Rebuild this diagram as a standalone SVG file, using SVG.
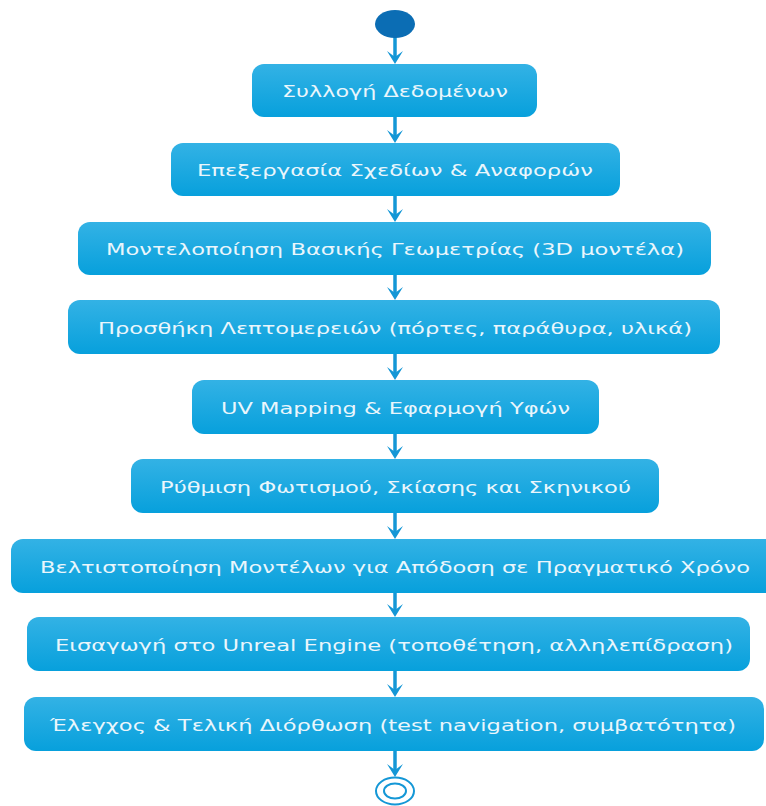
<svg xmlns="http://www.w3.org/2000/svg" width="766" height="806" viewBox="0 0 766 806">
  <defs>
    <linearGradient id="boxFill" x1="0" y1="0" x2="0" y2="1">
      <stop offset="0" stop-color="#33b2e5"/>
      <stop offset="1" stop-color="#07a0dc"/>
    </linearGradient>
    <!-- notched arrowhead, tip at origin pointing down -->
    <path id="head" d="M-8,-13 L0,0 L8,-13 L0,-7 Z" fill="#1497d6"/>
  </defs>
  <style>
    .box { fill: url(#boxFill); }
    .lbl { font-family: "DejaVu Sans", Verdana, sans-serif; font-size: 16.5px; fill: #eaf6fc; text-anchor: start; }
    .flow { stroke: #1497d6; stroke-width: 3.5; fill: none; }
  </style>
  <rect width="766" height="806" fill="#ffffff"/>

  <!-- connectors -->
  <g id="connectors">
    <line class="flow" x1="395" y1="36" x2="395" y2="58"/>
    <use href="#head" x="395" y="64"/>
    <line class="flow" x1="395" y1="117" x2="395" y2="137"/>
    <use href="#head" x="395" y="143"/>
    <line class="flow" x1="395" y1="196" x2="395" y2="216"/>
    <use href="#head" x="395" y="222"/>
    <line class="flow" x1="395" y1="275" x2="395" y2="294"/>
    <use href="#head" x="395" y="300"/>
    <line class="flow" x1="395" y1="354" x2="395" y2="374"/>
    <use href="#head" x="395" y="380"/>
    <line class="flow" x1="395" y1="434" x2="395" y2="453"/>
    <use href="#head" x="395" y="459"/>
    <line class="flow" x1="395" y1="513" x2="395" y2="533"/>
    <use href="#head" x="395" y="539"/>
    <line class="flow" x1="395" y1="593" x2="395" y2="611"/>
    <use href="#head" x="395" y="617"/>
    <line class="flow" x1="395" y1="671" x2="395" y2="691"/>
    <use href="#head" x="395" y="697"/>
    <line class="flow" x1="395" y1="751" x2="395" y2="771"/>
    <use href="#head" x="395" y="777"/>
  </g>

  <!-- start -->
  <g id="start">
    <ellipse cx="395" cy="24" rx="20" ry="14" fill="#0b6db4"/>
  </g>

  <g id="n1">
    <rect class="box" x="252" y="64" width="285" height="53" rx="12"/>
    <text class="lbl" x="282" y="97" textLength="226" lengthAdjust="spacingAndGlyphs">Συλλογή Δεδομένων</text>
  </g>
  <g id="n2">
    <rect class="box" x="171" y="143" width="449" height="53" rx="12"/>
    <text class="lbl" x="197" y="176" textLength="396" lengthAdjust="spacingAndGlyphs">Επεξεργασία Σχεδίων &amp; Αναφορών</text>
  </g>
  <g id="n3">
    <rect class="box" x="78" y="222" width="633" height="53" rx="12"/>
    <text class="lbl" x="106" y="255" textLength="578" lengthAdjust="spacingAndGlyphs">Μοντελοποίηση Βασικής Γεωμετρίας (3D μοντέλα)</text>
  </g>
  <g id="n4">
    <rect class="box" x="68" y="300" width="652" height="54" rx="12"/>
    <text class="lbl" x="98" y="334" textLength="594" lengthAdjust="spacingAndGlyphs">Προσθήκη Λεπτομερειών (πόρτες, παράθυρα, υλικά)</text>
  </g>
  <g id="n5">
    <rect class="box" x="192" y="380" width="407" height="54" rx="12"/>
    <text class="lbl" x="221" y="414" textLength="349" lengthAdjust="spacingAndGlyphs">UV Mapping &amp; Εφαρμογή Υφών</text>
  </g>
  <g id="n6">
    <rect class="box" x="131" y="459" width="528" height="54" rx="12"/>
    <text class="lbl" x="160" y="493" textLength="471" lengthAdjust="spacingAndGlyphs">Ρύθμιση Φωτισμού, Σκίασης και Σκηνικού</text>
  </g>
  <g id="n7">
    <rect class="box" x="11" y="539" width="766" height="54" rx="12"/>
    <text class="lbl" x="40" y="573" textLength="710" lengthAdjust="spacingAndGlyphs">Βελτιστοποίηση Μοντέλων για Απόδοση σε Πραγματικό Χρόνο</text>
  </g>
  <g id="n8">
    <rect class="box" x="27" y="617" width="723" height="54" rx="12"/>
    <text class="lbl" x="55" y="651" textLength="678" lengthAdjust="spacingAndGlyphs">Εισαγωγή στο Unreal Engine (τοποθέτηση, αλληλεπίδραση)</text>
  </g>
  <g id="n9">
    <rect class="box" x="24" y="697" width="740" height="54" rx="12"/>
    <text class="lbl" x="50" y="731" textLength="686" lengthAdjust="spacingAndGlyphs">Έλεγχος &amp; Τελική Διόρθωση (test navigation, συμβατότητα)</text>
  </g>

  <!-- end -->
  <g id="end">
    <ellipse cx="395" cy="791" rx="19" ry="13.5" fill="#ffffff" stroke="#1497d6" stroke-width="2"/>
    <ellipse cx="395" cy="791" rx="11" ry="7.5" fill="#ffffff" stroke="#1497d6" stroke-width="2"/>
  </g>
</svg>
